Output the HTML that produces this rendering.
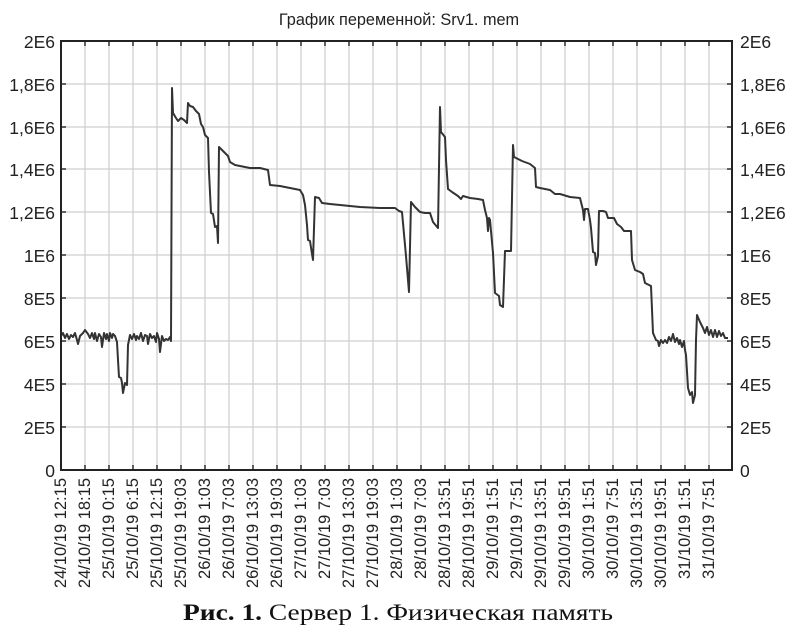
<!DOCTYPE html>
<html><head><meta charset="utf-8"><style>
html,body{margin:0;padding:0;background:#fff;}
svg{display:block}
</style></head><body>
<svg width="796" height="638" viewBox="0 0 796 638" xmlns="http://www.w3.org/2000/svg" font-family="Liberation Sans, sans-serif">
<rect width="796" height="638" fill="#fff"/>
<text x="399" y="25" font-size="16.3" text-anchor="middle" fill="#222">График переменной: Srv1. mem</text>
<g id="grid" stroke="#cfcfcf" stroke-width="1.3">
<line x1="61" y1="84" x2="732" y2="84"/><line x1="61" y1="127" x2="732" y2="127"/><line x1="61" y1="169" x2="732" y2="169"/><line x1="61" y1="212" x2="732" y2="212"/><line x1="61" y1="255" x2="732" y2="255"/><line x1="61" y1="298" x2="732" y2="298"/><line x1="61" y1="341" x2="732" y2="341"/><line x1="61" y1="384" x2="732" y2="384"/><line x1="61" y1="427" x2="732" y2="427"/>
</g>
<g id="vgrid" stroke="#cfcfcf" stroke-width="1.3"></g>
<path fill="none" stroke="#333" stroke-width="2" stroke-linejoin="round" d="
M61 336 L63 333 L65 338 L67 334 L69 339 L71 335 L73 337 L75 333 L77 340 L78 344 L80 336 L83 333 L85 330 L88 334 L90 338 L92 333 L94 339 L95 333 L97 341 L99 334 L101 337 L102 347 L104 333 L106 339 L107 334 L109 341 L110 333 L112 338 L113 334 L115 336 L117 342 L118 360 L119 377 L121 378 L122 383 L123 393 L125 383 L127 385 L128 345 L130 335 L132 339 L134 334 L136 340 L137 336 L139 339 L141 333 L143 341 L145 335 L147 336 L148 344 L150 334 L152 338 L154 336 L156 342 L157 333 L159 339 L160 352 L162 336 L164 341 L166 339 L168 340 L170 337 L171 341 L172 88 L173 113 L176 118 L178 121 L181 118 L184 120 L187 123 L188 103 L190 106 L193 107 L196 111 L199 114 L201 124 L203 127 L205 135 L208 138 L209 172 L211 213 L213 214 L215 227 L217 226 L218 243 L219 147 L222 150 L225 153 L228 156 L230 162 L235 165 L240 166 L250 168 L260 168 L268 170 L270 185 L280 186 L290 188 L300 190 L303 195 L305 205 L307 225 L308 240 L310 241 L312 254 L313 260 L315 197 L319 198 L322 203 L330 204 L340 205 L360 207 L380 208 L395 208 L399 211 L402 212 L404 234 L406 256 L407 268 L409 292 L411 202 L415 207 L420 212 L425 213 L430 213 L433 222 L438 228 L440 107 L441 132 L445 137 L446 160 L448 189 L452 192 L458 196 L461 199 L463 196 L470 198 L478 199 L483 200 L485 210 L487 218 L488 231 L489 218 L490 220 L493 253 L495 293 L499 296 L500 305 L503 307 L505 251 L511 251 L513 145 L514 157 L516 158 L522 161 L530 164 L535 168 L536 187 L540 188 L550 190 L555 194 L560 194 L570 197 L580 198 L583 210 L584 220 L585 209 L588 209 L590 220 L591 228 L593 252 L595 253 L596 265 L598 256 L599 211 L603 211 L606 212 L608 218 L614 218 L617 224 L621 227 L624 231 L631 231 L632 260 L635 270 L640 272 L643 274 L645 283 L651 286 L653 333 L656 340 L658 341 L659 346 L661 340 L663 343 L665 340 L667 343 L669 337 L671 341 L673 334 L675 342 L677 338 L679 344 L680 340 L682 347 L684 341 L685 350 L686 355 L688 388 L690 395 L692 392 L693 403 L695 395 L696 340 L697 315 L700 322 L703 328 L705 333 L707 327 L709 335 L711 330 L713 337 L715 330 L717 337 L719 331 L721 336 L723 333 L725 338 L728 338"/>
<g stroke="#222" stroke-width="2" fill="none">
<rect x="61" y="41" width="671" height="429"/>
</g>
<g id="ticks" stroke="#222" stroke-width="1.4"></g>
<g font-size="17.5" fill="#222" text-anchor="end">
<text x="55" y="48">2E6</text><text x="55" y="91">1,8E6</text><text x="55" y="134">1,6E6</text><text x="55" y="176">1,4E6</text><text x="55" y="219">1,2E6</text><text x="55" y="262">1E6</text><text x="55" y="305">8E5</text><text x="55" y="348">6E5</text><text x="55" y="391">4E5</text><text x="55" y="434">2E5</text><text x="55" y="477">0</text>
</g>
<g font-size="17.5" fill="#222" text-anchor="start">
<text x="740" y="48">2E6</text><text x="740" y="91">1,8E6</text><text x="740" y="134">1,6E6</text><text x="740" y="176">1,4E6</text><text x="740" y="219">1,2E6</text><text x="740" y="262">1E6</text><text x="740" y="305">8E5</text><text x="740" y="348">6E5</text><text x="740" y="391">4E5</text><text x="740" y="434">2E5</text><text x="740" y="477">0</text>
</g>
<g id="xl" font-size="16.5" fill="#222" text-anchor="end"></g>
<text x="183" y="620" font-family="Liberation Serif, serif" font-size="23" fill="#111" textLength="430" lengthAdjust="spacingAndGlyphs"><tspan font-weight="bold">Рис. 1.</tspan> Сервер 1. Физическая память</text>
</svg>
<script>
var labels=["24/10/19 12:15","24/10/19 18:15","25/10/19 0:15","25/10/19 6:15","25/10/19 12:15","25/10/19 19:03","26/10/19 1:03","26/10/19 7:03","26/10/19 13:03","26/10/19 19:03","27/10/19 1:03","27/10/19 7:03","27/10/19 13:03","27/10/19 19:03","28/10/19 1:03","28/10/19 7:03","28/10/19 13:51","28/10/19 19:51","29/10/19 1:51","29/10/19 7:51","29/10/19 13:51","29/10/19 19:51","30/10/19 1:51","30/10/19 7:51","30/10/19 13:51","30/10/19 19:51","31/10/19 1:51","31/10/19 7:51"];
var NS="http://www.w3.org/2000/svg";
var vg=document.getElementById("vgrid"),tk=document.getElementById("ticks"),xl=document.getElementById("xl");
function el(n,a,p){var e=document.createElementNS(NS,n);for(var k in a)e.setAttribute(k,a[k]);p.appendChild(e);return e;}
for(var i=0;i<labels.length;i++){
 var x=61+i*24;
 if(i>0){el("line",{x1:x,y1:41,x2:x,y2:470},vg);el("line",{x1:x,y1:41,x2:x,y2:46},tk);el("line",{x1:x,y1:465,x2:x,y2:470},tk);}
 var t=el("text",{x:0,y:0,transform:"translate("+(x+5)+",478) rotate(-90)"},xl);t.textContent=labels[i];
}
[84,127,169,212,255,298,341,384,427].forEach(function(y){el("line",{x1:61,y1:y,x2:66,y2:y},tk);el("line",{x1:727,y1:y,x2:732,y2:y},tk);});
</script>
</body></html>
